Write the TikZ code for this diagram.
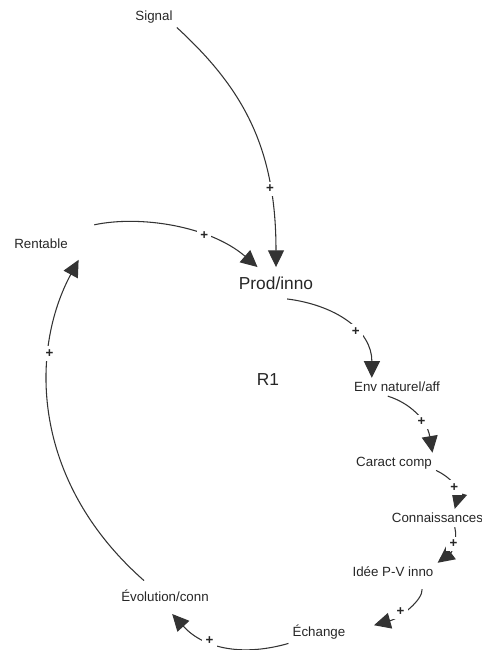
\documentclass[tikz,border=0pt]{standalone}
\usepackage{fontspec}
\setmainfont{Liberation Sans}
\usetikzlibrary{arrows.meta}
\begin{document}
\begin{tikzpicture}[x = 0.75pt, y = -0.75pt,
        var/.style = {text = black!85, font = \fontsize{10}{12}\selectfont, inner sep = 3pt},
        big/.style = {text = black!85, font = \fontsize{13}{15}\selectfont},
        link/.style = {draw = black!80, line width = 0.8pt, -{Triangle[length = 12.5pt, width = 12pt]}},
        plus/.style = {fill = white, text = black!85, font = \bfseries\fontsize{10}{10}\selectfont, inner sep = 2.5pt}]
    \useasboundingbox (0, 0) rectangle (482, 650);
    % variables
    \node [var] (signal) at (154, 17) {Signal};
    \node [var, inner sep = 8pt] (rentable) at (41, 244) {Rentable};
    \node [big, inner sep = 7pt] (prod) at (276, 283) {Prod/inno};
    \node [big] (loop) at (268, 380) {R1};
    \node [var] (env) at (397, 387) {Env naturel/aff};
    \node [var] (caract) at (394, 463) {Caract comp};
    \node [var] (conn) at (437.5, 518) {Connaissances};
    \node [var] (idee) at (393, 572) {Idée P-V inno};
    \node [var] (echange) at (319, 632) {Échange};
    \node [var] (evol) at (165, 596) {Évolution/conn};
    % links
    \draw [link] (signal.south east) .. controls (245, 90) and (276, 150) .. (prod.north)
        node [plus, pos = 0.75] {+};
    \draw [link, shorten <= 12pt] (rentable.north east) .. controls (140, 215) and (210, 226) .. (prod)
        node [plus, pos = 0.67] {+};
    \draw [link] (prod.-55) .. controls (335, 305) and (372, 330) .. (env.160)
        node [plus, pos = 0.6] {+};
    \draw [link] (env.-135) .. controls (410, 403) and (427, 420) .. (caract.15)
        node [plus, pos = 0.62] {+};
    \draw [link] (caract.-10) .. controls (452, 478) and (460, 490) .. (conn.28)
        node [plus, pos = 0.55] {+};
    \draw [link] (conn.-28) .. controls (458, 540) and (452, 552) .. (idee.north east)
        node [plus, pos = 0.45] {+};
    \draw [link, shorten <= 6pt, shorten >= 19pt] (idee.-18) .. controls (423, 600) and (400, 618) .. (echange.east)
        node [plus, pos = 0.56] {+};
    \draw [link, shorten >= 8pt] (echange.south west) .. controls (245, 656) and (205, 650) .. (evol.south)
        node [plus, pos = 0.63] {+};
    \draw [link, shorten <= 6pt] (evol.146) .. controls (30, 480) and (30, 350) .. (rentable.south east)
        node [plus, pos = 0.69] {+};
\end{tikzpicture}
\end{document}
